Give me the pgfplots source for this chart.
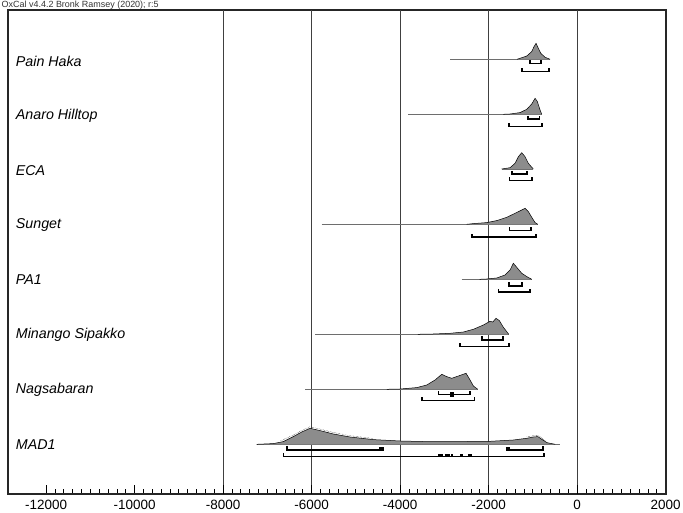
\documentclass[border=0pt]{standalone}
\usepackage{fontspec}
\setmainfont{Liberation Sans}
\usepackage{pgfplots}
\pgfplotsset{compat=1.18}
\definecolor{distgray}{RGB}{140,140,140}
\definecolor{baseg}{RGB}{110,110,110}
\begin{document}
\begin{tikzpicture}[
  bl/.style={baseg, line width=0.6bp},
  dist/.style={draw=black, line width=0.5bp, fill=distgray},
  br/.style={black, line width=1.6bp},
  blk/.style={black, line width=3.2bp},
  lab/.style={anchor=west, font=\fontsize{14.3}{16}\selectfont\itshape}
]
\begin{axis}[
  scale only axis, width=658bp, height=484bp,
  xmin=-12860, xmax=2010, ymin=0, ymax=484,
  axis line style={line width=1.6bp, black!85},
  xtick={-12000,-10000,...,2000},
  scaled x ticks=false,
  minor x tick num=9,
  tick align=inside, xtick pos=bottom, ytick=\empty,
  major tick length=9bp, minor tick length=4.5bp,
  every tick/.style={black, line width=0.7bp},
  extra x ticks={-8000,-6000,-4000,-2000,0},
  extra x tick labels={},
  extra x tick style={grid=major, major grid style={black!75, line width=0.8bp}},
  xticklabel style={font=\fontsize{13.5}{15}\selectfont, yshift=-2.5bp},
  /pgf/number format/assume math mode=true,
  /pgf/number format/1000 sep={},
]

% Pain Haka
\addplot[bl] coordinates {(-2870,434.7) (-610,434.7)};
\addplot[dist] table[x=x, y expr=\thisrow{d}+434.7] {
x d
-1356 0
-1288 1
-1137 3.3
-1024 7.7
-972 12.7
-927 16
-875 11
-820 6
-723 2
-610 0
};
\addplot[br] coordinates {(-1062,434) (-1062,430.5) (-820,430.5) (-820,434)};
\addplot[br] coordinates {(-1250,425.8) (-1250,422.3) (-633,422.3) (-633,425.8)};

% Anaro Hilltop
\addplot[bl] coordinates {(-3819,379.7) (-798,379.7)};
\addplot[dist] table[x=x, y expr=\thisrow{d}+379.7] {
x d
-1665 0
-1514 0.3
-1288 1.7
-1137 5
-1024 10.3
-949 16
-897 12.7
-836 4.3
-798 0
};
\addplot[br] coordinates {(-1107,378.2) (-1107,374.7) (-852,374.7) (-852,378.2)};
\addplot[br] coordinates {(-1537,370.8) (-1537,367.3) (-798,367.3) (-798,370.8)};

% ECA
\addplot[bl] coordinates {(-1702,325) (-988,325)};
\addplot[dist] table[x=x, y expr=\thisrow{d}+325] {
x d
-1702 0
-1514 1.3
-1401 5.7
-1326 12.3
-1250 16.3
-1175 12.3
-1101 5.7
-1024 1.7
-988 0
};
\addplot[br] coordinates {(-1476,323.2) (-1476,319.7) (-1137,319.7) (-1137,323.2)};
\addplot[br] coordinates {(-1530,316.8) (-1530,313.3) (-1024,313.3) (-1024,316.8)};

% Sunget
\addplot[bl] coordinates {(-5770,269.7) (-888,269.7)};
\addplot[dist] table[x=x, y expr=\thisrow{d}+269.7] {
x d
-2493 0
-2343 0.7
-2041 1.7
-1815 3.7
-1589 7
-1401 11
-1250 14.3
-1175 16
-1101 12.7
-1024 7
-949 1.7
-888 0
};
\addplot[br] coordinates {(-1530,266.8) (-1530,263.3) (-1040,263.3) (-1040,266.8)};
\addplot[br] coordinates {(-2373,260.2) (-2373,256.7) (-927,256.7) (-927,260.2)};

% PA1
\addplot[bl] coordinates {(-2606,214.7) (-1024,214.7)};
\addplot[dist] table[x=x, y expr=\thisrow{d}+214.7] {
x d
-2200 0
-2041 0.3
-1815 1.3
-1627 4.3
-1514 9.3
-1440 16
-1363 12
-1250 6
-1137 2.7
-1024 0
};
\addplot[br] coordinates {(-1544,211.5) (-1544,208) (-1250,208) (-1250,211.5)};
\addplot[br] coordinates {(-1779,205.2) (-1779,201.7) (-1062,201.7) (-1062,205.2)};

% Minango Sipakko
\addplot[bl] coordinates {(-5921,159.7) (-1544,159.7)};
\addplot[dist] table[x=x, y expr=\thisrow{d}+159.7] {
x d
-3600 0
-3247 0.3
-2870 1
-2569 2.3
-2343 5
-2117 9.3
-1966 13
-1905 12.3
-1831 16
-1756 13.7
-1665 7
-1544 0
};
\addplot[br] coordinates {(-2154,157.5) (-2154,154) (-1679,154) (-1679,157.5)};
\addplot[br] coordinates {(-2644,150.8) (-2644,147.3) (-1544,147.3) (-1544,150.8)};

% Nagsabaran
\addplot[bl] coordinates {(-6147,104.7) (-2244,104.7)};
\addplot[dist] table[x=x, y expr=\thisrow{d}+104.7] {
x d
-4300 0
-4000 0.3
-3623 1.7
-3397 4.3
-3209 9.3
-3058 15
-2945 12.7
-2832 11
-2683 13.3
-2509 16
-2418 9.3
-2343 3.3
-2244 0
};
\addplot[br] coordinates {(-3135,102.8) (-3135,99.3) (-2418,99.3) (-2418,102.8)};
\addplot[only marks, mark=square*, mark size=1.8bp, black] coordinates {(-2832,100)};
\addplot[br] coordinates {(-3510,96.8) (-3510,93.3) (-2321,93.3) (-2321,96.8)};

% MAD1
\addplot[bl] coordinates {(-7239,49.7) (-389,49.7)};
\addplot[dist] table[x=x, y expr=\thisrow{d}+49.7] {
x d
-7239 0
-6864 0.7
-6638 2.7
-6412 7.7
-6222 12.3
-6034 16
-5808 13.7
-5507 10.3
-5130 7.3
-4604 4.7
-4000 3.3
-3397 2.7
-2719 2.7
-1966 3
-1440 4.3
-1137 6
-988 7.3
-888 7.7
-798 5
-685 1.7
-497 0
};
\addplot[black, line width=0.4bp, densely dotted] table[x=x, y expr=\thisrow{d}+49.7] {
x d
-6700 3.5
-6412 9.2
-6222 13.8
-6034 17.5
-5808 15.2
-5507 11.8
-5130 8.6
-4604 5.8
};
\addplot[black, line width=0.4bp, densely dotted] table[x=x, y expr=\thisrow{d}+49.7] {
x d
-1137 7.3
-988 8.6
-888 9
-798 6.2
-685 2.5
};
\addplot[br] coordinates {(-6561,47.5) (-6561,44) (-4362,44)};
\addplot[blk] coordinates {(-4475,45.2) (-4362,45.2)};
\addplot[br] coordinates {(-1611,44) (-775,44) (-775,47.5)};
\addplot[blk] coordinates {(-1611,45.2) (-1514,45.2)};
\addplot[br] coordinates {(-6638,40.8) (-6638,37.3) (-746,37.3) (-746,40.8)};
\addplot[blk] coordinates {(-3135,38.6) (-3040,38.6)};
\addplot[blk] coordinates {(-2990,38.6) (-2880,38.6)};
\addplot[blk] coordinates {(-2850,38.6) (-2796,38.6)};
\addplot[blk] coordinates {(-2644,38.6) (-2569,38.6)};
\addplot[blk] coordinates {(-2470,38.6) (-2380,38.6)};

% names
\node[lab] at (axis cs:-12760,433) {Pain Haka};
\node[lab] at (axis cs:-12760,378) {Anaro Hilltop};
\node[lab] at (axis cs:-12760,323) {ECA};
\node[lab] at (axis cs:-12760,269) {Sunget};
\node[lab] at (axis cs:-12760,214) {PA1};
\node[lab] at (axis cs:-12760,159) {Minango Sipakko};
\node[lab] at (axis cs:-12760,104) {Nagsabaran};
\node[lab] at (axis cs:-12760,49) {MAD1};
\end{axis}
\node[anchor=base west, inner sep=0pt, font=\fontsize{9}{10}\selectfont, text=black!80]
  at ([xshift=-6.5bp, yshift=2.6bp]current axis.north west) {OxCal v4.4.2 Bronk Ramsey (2020); r:5};
\pgfresetboundingbox
\path ([shift={(-8bp,-19bp)}]current axis.south west) rectangle ([shift={(17bp,10bp)}]current axis.north east);
\end{tikzpicture}
\end{document}
